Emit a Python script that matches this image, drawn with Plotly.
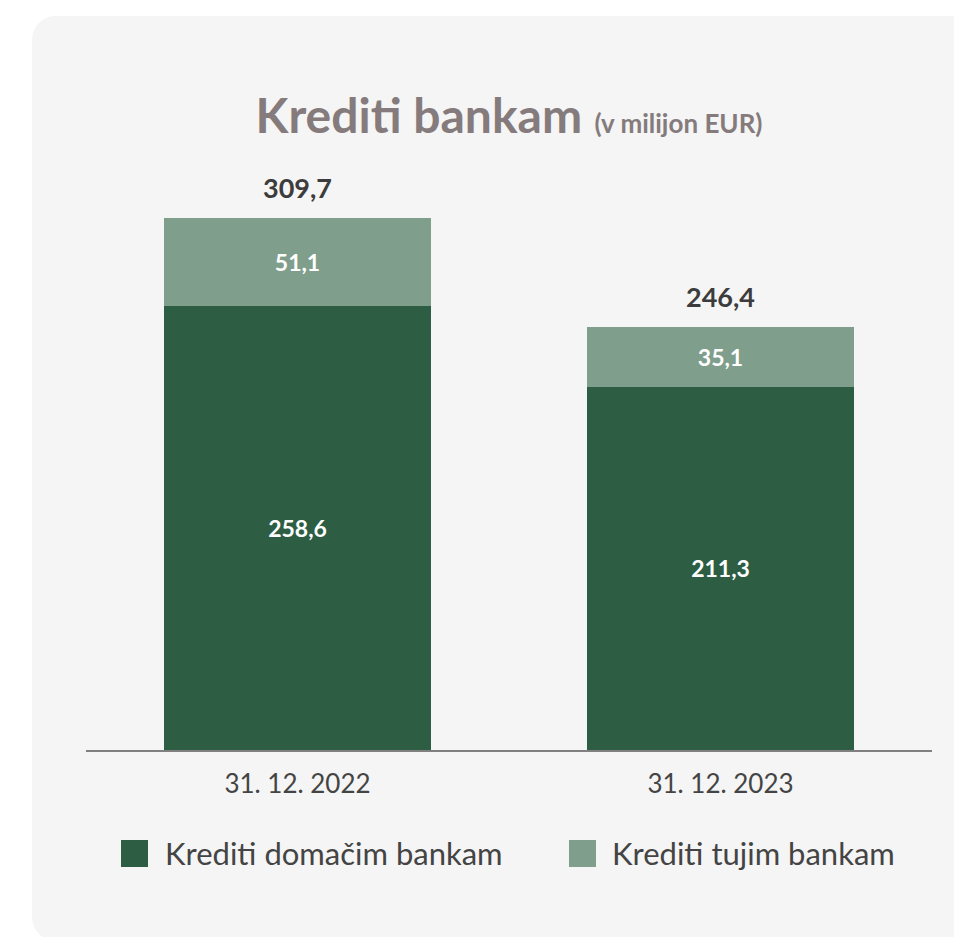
import plotly.graph_objects as go

# Loans to banks, EUR million
categories = ["31. 12. 2022", "31. 12. 2023"]
domestic = [258.6, 211.3]
foreign = [51.1, 35.1]
series_names = ["Krediti domačim bankam", "Krediti tujim bankam"]
colors = ["#2d5e44", "#809e8c"]

W, H = 954, 937
ML, MR, MT, MB = 86, 22, 183, 187
PW, PH = W - ML - MR, H - MT - MB
Y_MAX = 330


def px_x(p):
    return (p - ML) / PW


def px_y(p):
    return (H - MB - p) / PH


FONT = "Lato"

fig = go.Figure()
for name, vals, col in zip(series_names, [domestic, foreign], colors):
    fig.add_trace(go.Bar(
        x=categories, y=vals, name=name, marker=dict(color=col, line=dict(width=0)),
        texttemplate="%{y:.1f}", textposition="inside", insidetextanchor="middle",
        textangle=0, insidetextfont=dict(family=FONT, size=23, color="white", weight="bold"),
        showlegend=False, hoverinfo="skip",
    ))

# totals above each stack
for c, d, f in zip(categories, domestic, foreign):
    total = round(d + f, 1)
    fig.add_annotation(
        x=c, y=total, xref="x", yref="y", yanchor="bottom", yshift=12,
        text=f"{total:.1f}".replace(".", ","), showarrow=False,
        font=dict(family=FONT, size=27, color="#3c3c3c", weight="bold"),
    )

# rounded background card
r = 24
k = 0.552 * r
x0, y0, x1, y1 = 32, 16, 990, 941
card = (
    f"M {px_x(x0)},{px_y(y0 + r)} "
    f"C {px_x(x0)},{px_y(y0 + r - k)} {px_x(x0 + r - k)},{px_y(y0)} {px_x(x0 + r)},{px_y(y0)} "
    f"L {px_x(x1)},{px_y(y0)} L {px_x(x1)},{px_y(y1)} L {px_x(x0 + r)},{px_y(y1)} "
    f"C {px_x(x0 + r - k)},{px_y(y1)} {px_x(x0)},{px_y(y1 - r + k)} {px_x(x0)},{px_y(y1 - r)} Z"
)
shapes = [dict(type="path", path=card, xref="paper", yref="paper",
               fillcolor="#f4f5f4", line=dict(width=0), layer="below")]

# legend
legend_items = [(121, 163), (569, 610)]
for (sx, tx), name, col in zip(legend_items, series_names, colors):
    shapes.append(dict(type="rect", xref="paper", yref="paper",
                       x0=px_x(sx), x1=px_x(sx + 27), y0=px_y(840), y1=px_y(867),
                       fillcolor=col, line=dict(width=0)))
    fig.add_annotation(x=px_x(tx), y=px_y(853), xref="paper", yref="paper",
                       xanchor="left", yanchor="middle", text=name, showarrow=False,
                       font=dict(family=FONT, size=31, color="#444444"))

fig.update_layout(
    width=W, height=H,
    margin=dict(l=ML, r=MR, t=MT, b=MB),
    paper_bgcolor="white", plot_bgcolor="rgba(0,0,0,0)",
    barmode="stack", bargap=0.369,
    separators=", ",
    shapes=shapes,
    showlegend=False,
    title=dict(
        text="<b>Krediti bankam</b> <span style='font-size:26px'><b>(v milijon EUR)</b></span>",
        x=509 / W, xanchor="center", y=1 - 116 / H, yanchor="middle",
        font=dict(family=FONT, size=48, color="#857b7c"),
    ),
    xaxis=dict(showline=True, linecolor="#808080", linewidth=2, ticks="",
               tickfont=dict(family=FONT, size=26, color="#444444"),
               ticklabelstandoff=10, showgrid=False, fixedrange=True),
    yaxis=dict(range=[0, Y_MAX], visible=False, showgrid=False, zeroline=False),
)

fig.write_html("out.html")
